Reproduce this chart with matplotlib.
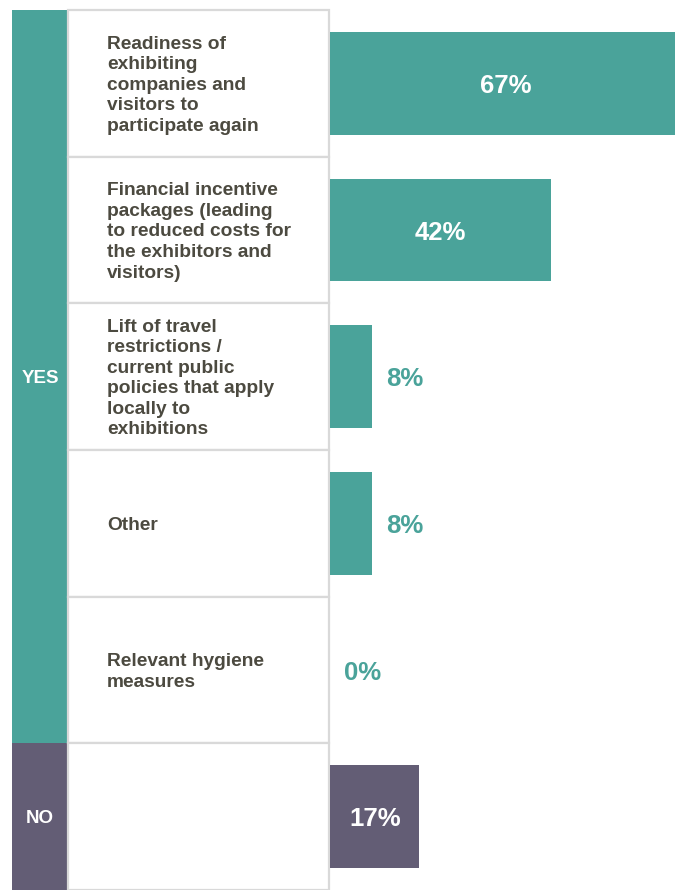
import matplotlib
matplotlib.use('Agg')
import matplotlib.pyplot as plt
from matplotlib.patches import Rectangle

plt.rcParams['font.family'] = ['Liberation Sans', 'DejaVu Sans']

# data
labels = [
    'Readiness of\nexhibiting\ncompanies and\nvisitors to\nparticipate again',
    'Financial incentive\npackages (leading\nto reduced costs for\nthe exhibitors and\nvisitors)',
    'Lift of travel\nrestrictions /\ncurrent public\npolicies that apply\nlocally to\nexhibitions',
    'Other',
    'Relevant hygiene\nmeasures',
    '',
]
values = [67, 42, 8, 8, 0, 17]
groups = ['YES', 'YES', 'YES', 'YES', 'YES', 'NO']

teal = '#4aa39a'
purple = '#635d75'
text_col = '#4c4a40'
grid_col = '#d9d9d9'
group_colors = {'YES': teal, 'NO': purple}

W, H = 675, 890
fig = plt.figure(figsize=(W / 100, H / 100), dpi=100)

# table part (pixel coordinates, y downward)
tab = fig.add_axes([0, 0, 1, 1])
tab.set_xlim(0, W)
tab.set_ylim(H, 0)
tab.axis('off')

top = 10
row_h = (H - top) / len(labels)
n_yes = groups.count('YES')

tab.add_patch(Rectangle((12, top), 55, n_yes * row_h, color=teal, lw=0))
tab.add_patch(Rectangle((12, top + n_yes * row_h), 55, (len(labels) - n_yes) * row_h,
                        color=purple, lw=0))
tab.text(40, top + n_yes * row_h / 2, 'YES', color='white', fontsize=13.5,
         fontweight='bold', ha='center', va='center_baseline')
tab.text(40, top + (n_yes + len(labels)) * row_h / 2, 'NO', color='white', fontsize=13.5,
         fontweight='bold', ha='center', va='center_baseline')

for i, lab in enumerate(labels):
    y0 = top + i * row_h
    tab.add_patch(Rectangle((68, y0), 261, row_h, facecolor='white',
                            edgecolor=grid_col, lw=1.6))
    tab.text(107, y0 + row_h / 2 + 2, lab, color=text_col, fontsize=13.8,
             fontweight='bold', ha='left', va='center', linespacing=1.27)

# bars
ax = fig.add_axes([330 / W, 0, (W - 330) / W, (H - top) / H])
ax.set_xlim(0, 65.6)
ax.set_ylim(len(labels), 0)
ax.axis('off')

ypos = [i + 0.5 for i in range(len(labels))]
cols = [group_colors[g] for g in groups]
ax.barh(ypos, values, height=0.7, color=cols)

for y, v, c in zip(ypos, values, cols):
    if v >= 15:
        ax.text(v / 2, y, f'{v}%', color='white', fontsize=18.5, fontweight='bold',
                ha='center', va='center_baseline', clip_on=False)
    else:
        ax.text(v + 2.6, y, f'{v}%', color=c, fontsize=18.5, fontweight='bold',
                ha='left', va='center_baseline')

fig.savefig('out.png', dpi=100)
